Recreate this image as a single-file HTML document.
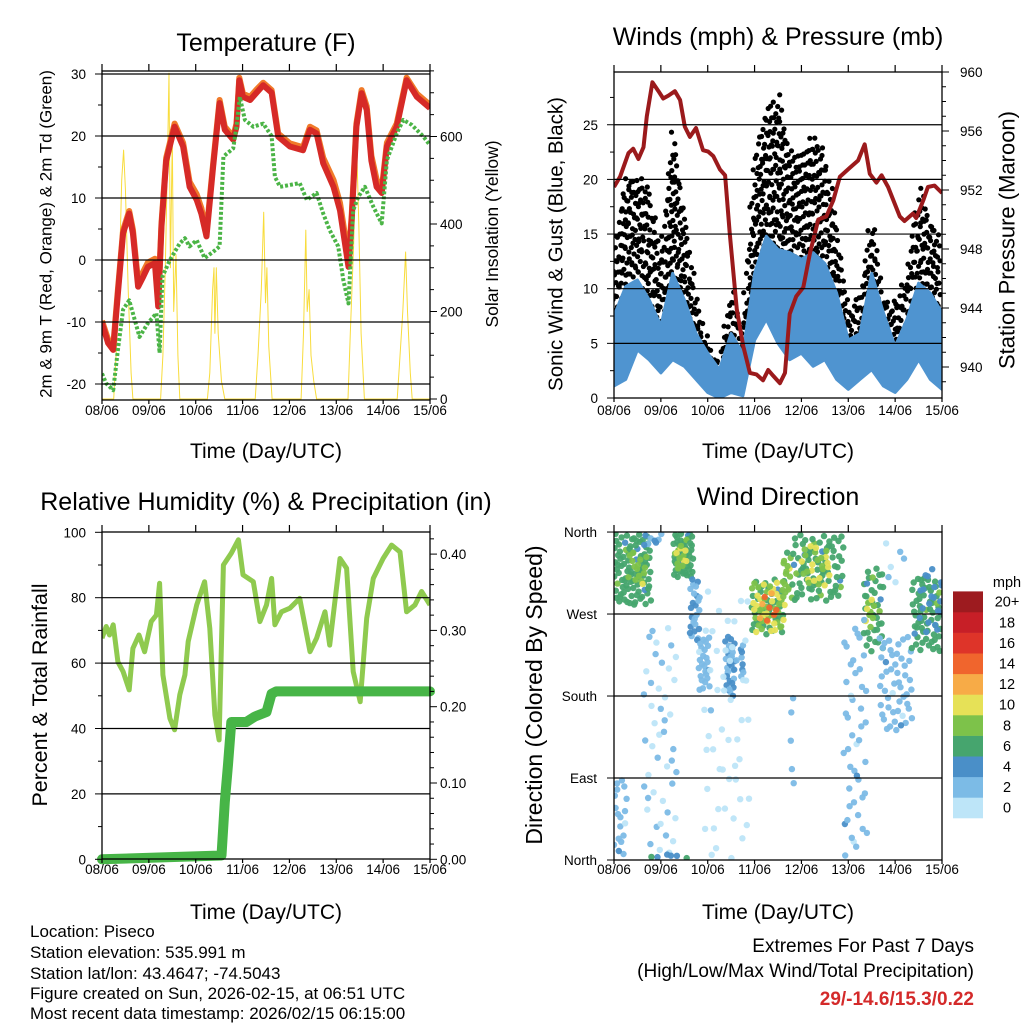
<!DOCTYPE html>
<html><head><meta charset="utf-8"><style>
html,body{margin:0;padding:0;background:#fff;}
svg{display:block;font-family:"Liberation Sans",sans-serif;}
</style></head><body>
<svg id="root" width="1024" height="1024" viewBox="0 0 1024 1024" xmlns="http://www.w3.org/2000/svg">
<defs>
<clipPath id="c1"><rect x="102" y="71" width="328" height="329"/></clipPath>
<clipPath id="c2"><rect x="614" y="72" width="328" height="326"/></clipPath>
<clipPath id="c3"><rect x="102" y="532" width="328" height="328"/></clipPath>
<clipPath id="c4"><rect x="614" y="532" width="328" height="328"/></clipPath>
</defs>
<g id="p1"></g>
<g id="p2"></g>
<g id="p3"></g>
<g id="p4"></g>
<g id="cb"></g>
<g font-size="17" fill="#000">
<text x="30" y="937">Location: Piseco</text>
<text x="30" y="958">Station elevation: 535.991 m</text>
<text x="30" y="979">Station lat/lon: 43.4647; -74.5043</text>
<text x="30" y="999">Figure created on Sun, 2026-02-15, at 06:51 UTC</text>
<text x="30" y="1019">Most recent data timestamp: 2026/02/15 06:15:00</text>
</g>
<g text-anchor="end">
<text x="974" y="952" font-size="19">Extremes For Past 7 Days</text>
<text x="974" y="977" font-size="19">(High/Low/Max Wind/Total Precipitation)</text>
<text x="974" y="1005" font-size="19" font-weight="bold" fill="#d42a2a">29/-14.6/15.3/0.22</text>
</g>
</svg>
<script>
// ---------- DATA ----------
const dayLabels = ["08/06","09/06","10/06","11/06","12/06","13/06","14/06","15/06"];
const tempTime = [0,.13,.24,.34,.45,.58,.66,.77,.88,.98,1.13,1.2,1.27,1.37,1.55,1.73,1.87,2.02,2.12,2.23,2.37,2.51,2.62,2.8,2.87,2.93,3.01,3.16,3.3,3.44,3.62,3.76,4.01,4.29,4.44,4.58,4.72,4.94,5.08,5.26,5.33,5.43,5.54,5.65,5.75,5.86,5.97,6.08,6.29,6.5,6.72,7];
const temp2m = [-10.2,-13.4,-14.5,-5.4,4.3,7.5,4.3,-4.3,-2.7,-1.1,-0.5,-7.5,5.4,16,21.5,18.3,11.8,9.7,7.5,3.8,15,25.3,21,19.4,21.5,29,26.3,25.8,27,28.2,27,19.9,18.3,17.7,21,20.4,15.6,11.8,8,-1.1,6.5,21.5,26.9,24.2,16,11.8,10.8,18.3,21.5,29,26.3,24.5];
const temp9m = [-9.8,-12.8,-13.9,-4.8,4.8,7.9,4.9,-3.5,-1.9,-0.4,0.2,-6.5,6,16.5,22,18.9,12.6,10.6,8.4,4.5,15.5,25.8,21.5,19.9,22,29.4,26.8,26.3,27.5,28.6,27.4,20.4,18.8,18.2,21.5,20.9,16.5,12.9,9.2,0.3,7.2,22,27.4,24.8,16.8,13,11.3,18.9,22,29.4,26.8,25];
const tdTime = [0,.09,.24,.34,.45,.58,.66,.8,.98,1.16,1.23,1.29,1.45,1.66,1.77,1.87,2.02,2.19,2.37,2.51,2.59,2.8,2.87,2.94,3.05,3.23,3.44,3.62,3.69,3.8,4.22,4.37,4.58,4.72,4.86,5.04,5.15,5.26,5.36,5.47,5.61,5.79,5.97,6.08,6.29,6.43,6.61,6.86,7];
const tdVals = [-18.3,-19.9,-21,-14.5,-8,-6.5,-8.6,-12.4,-10.2,-8.6,-15,-2.7,0,2.7,3.5,2.2,3.2,0.3,1.3,2.2,16.7,18,21.5,26.3,22.6,21.5,22,20,13.4,11.8,12.4,9.7,10.8,7.5,4.8,2.2,-3.2,-7,8,10.2,11.8,8.6,5.9,16.1,20.4,22.6,21.8,19.9,18.5];
const solarTime = [0,.25,.35,.42,.46,.5,.56,.62,.66,1.25,1.3,1.35,1.4,1.43,1.46,1.5,1.53,1.58,1.62,1.66,2.25,2.3,2.36,2.39,2.41,2.44,2.48,2.55,2.62,3.27,3.33,3.4,3.45,3.49,3.52,3.56,3.63,4.25,4.3,4.35,4.38,4.42,4.46,4.52,4.58,5.25,5.3,5.37,5.43,5.48,5.53,5.6,6.3,6.35,6.42,6.48,6.52,6.58,6.62,7];
const solarVals = [0,0,200,500,569,480,250,60,0,0,100,300,560,745,300,600,200,330,100,0,0,60,250,300,150,300,150,40,0,0,100,250,427,220,300,120,0,0,150,386,200,250,100,40,0,0,150,350,603,400,150,0,0,80,200,336,200,60,0,0];
const presTime = [0,.13,.31,.41,.52,.63,.7,.82,.95,1.05,1.16,1.3,1.41,1.51,1.62,1.75,1.9,2.01,2.12,2.26,2.37,2.47,2.62,2.76,2.9,3.04,3.18,3.29,3.4,3.54,3.65,3.75,3.89,4.04,4.18,4.36,4.53,4.68,4.82,5.03,5.21,5.35,5.46,5.6,5.71,5.85,6.1,6.2,6.38,6.45,6.6,6.7,6.84,7];
const presVals = [952.2,952.9,954.5,954.8,954.1,954.9,957,959.3,958.7,958.2,958.4,958.7,958.1,956.3,955.6,956.2,954.7,954.6,954.3,953.4,953,949.1,943.9,941.4,939.6,939.5,939.1,939.8,939.4,938.9,939.6,943.6,944.8,945.4,947.7,950,950.2,951.3,952.9,953.5,954,955.1,953.1,952.5,953,952.2,950.2,949.9,950.4,950.1,951.3,952.2,952.3,951.8];
const windTime = [0,.25,.5,.75,1,1.25,1.5,1.75,2,2.25,2.5,2.75,3,3.25,3.5,3.75,4,4.25,4.5,4.75,5,5.25,5.5,5.75,6,6.25,6.5,6.75,7];
const windHi = [7.5,10.2,10.8,9,6.6,11.4,9,5.9,4.1,2.6,5.9,4.1,11.4,14.8,13.6,13.3,12.7,13.3,12.3,9.6,5.3,5.9,11.4,7.8,4.7,7.2,10.5,9.6,7.8];
const windLo = [1.1,1.7,4.4,3.5,2.3,3.5,2.9,1.7,0.5,0,0.5,0.2,5.3,7.2,5,3.5,4.1,2.9,3.5,1.7,0.8,1.7,2.6,1.1,0.5,1.7,3.5,1.7,0.8];
const gustHi = [13.6,20.3,20.3,19.4,12.7,24.8,17.2,9.6,5,3.5,10.2,6.6,22.1,26.4,27.9,22.7,22.4,24.2,22.4,15.7,8.1,9.6,16.9,9,9,11.1,19.4,16.6,14.5];
const gustLo = [7.8,9.6,11.1,9,4.1,9.6,6.6,3.5,1.7,1.4,2.9,1.7,9.6,14.2,12.7,11.1,9.6,11.1,9.6,5.9,3.5,4.1,8.1,4.7,4.1,5.9,9,9.6,6.6];
const rhTime = [0,.09,.16,.24,.34,.45,.58,.66,.79,.91,1.05,1.16,1.23,1.3,1.45,1.55,1.66,1.77,1.84,2.02,2.19,2.3,2.41,2.5,2.59,2.76,2.91,3.01,3.23,3.37,3.51,3.62,3.69,3.83,4.01,4.22,4.44,4.58,4.76,4.86,5.08,5.22,5.36,5.51,5.65,5.79,6,6.18,6.36,6.5,6.68,6.82,7];
const rhVals = [67.6,71.2,68.6,71.7,60.4,57.4,51.8,64.5,68.6,63.5,72.7,74.7,84.4,56.4,43.1,39.6,50.3,56.4,66.6,77.8,84.9,70.6,44.1,36.5,90,93.6,97.7,87,84.9,72.7,77.8,85.9,71.7,75.7,76.8,79.8,63.5,67.6,75.7,65.5,92,89,57.4,48.2,73.7,85.9,92,96.1,94,75.7,77.8,81.9,77.8];
const prTime = [0,2.55,2.62,2.69,2.76,3.08,3.26,3.51,3.62,3.72,7];
const prVals = [0,0.005,0.075,0.124,0.18,0.18,0.187,0.193,0.217,0.22,0.22];
const clStart = [0,0.3,1.27,1.3,1.62,1.8,2.37,2.7,2.94,2.94,3.1,3.6,3.8,4.0,5.32,5.35,5.67,6.35,4.9,0.63,1.9,0,0.77,0.6,3.75,5.8,6.5];
const clEnd   = [0.8,0.7,1.69,1.55,1.83,2.05,2.58,2.76,3.65,3.65,3.5,3.8,4.9,4.6,5.75,5.55,6.38,7,5.4,1.34,2.9,0.27,1.6,1.05,3.85,6.2,7];
const clDirLo = [280,300,310,320,240,185,180,200,247,250,260,287,284,300,229,260,141,229,2,2,2,2,2,345,60,300,250];
const clDirHi = [359,340,359,345,310,245,245,240,310,305,295,339,357,345,320,290,247,310,265,258,295,93,6,359,200,350,320];
const clSpeed = [7,9,7,10,4,3,4,4,7,10,14,9,7,10,7,10,3,7,3,2,1,3,6,4,3,2,5];
const clCount = [90,15,50,12,25,25,30,8,35,45,8,15,80,25,40,8,50,60,45,45,50,18,6,8,5,6,20];
const cbLabels = ["0","2","4","6","8","10","12","14","16","18","20+"];
const cbColors = ["#bde5f8","#7cbbe6","#4a8fc8","#46a56e","#7dc24a","#e6e157","#f7ab47","#f0652d","#de3429","#c71f27","#9d1b1f"];

// ---------- HELPERS ----------
const NS="http://www.w3.org/2000/svg";
function mk(parent,tag,attrs){const e=document.createElementNS(NS,tag);for(const k in attrs)e.setAttribute(k,attrs[k]);parent.appendChild(e);return e;}
function txt(parent,x,y,s,size,anchor){const e=mk(parent,"text",{x:x,y:y,"font-size":size,"text-anchor":anchor||"middle"});e.textContent=s;return e;}
function halton(i,b){let f=1,r=0;while(i>0){f/=b;r+=f*(i%b);i=Math.floor(i/b);}return r;}
function pathOf(ts,vs,fx,fy){return ts.map((t,i)=>(i?"L":"M")+fx(t).toFixed(1)+","+fy(vs[i]).toFixed(1)).join("");}
function interp(ts,vs,t){for(let i=1;i<ts.length;i++){if(t<=ts[i]){const f=(t-ts[i-1])/(ts[i]-ts[i-1]);return vs[i-1]+f*(vs[i]-vs[i-1]);}}return vs[vs.length-1];}
function speedColor(s){let k=Math.floor(s/2);if(k>10)k=10;if(k<0)k=0;return cbColors[k];}

const XL=t=>102+t*46.857, XR=t=>614+t*46.857;

function frame(g,x0,y0,x1,y1,name){
  const r=mk(g,"rect",{x:x0,y:y0,width:x1-x0,height:y1-y0,fill:"none",stroke:"#000","stroke-width":1.3});
  
  
}
function xAxis(g,fx,yb,yt,labY){
  for(let d=0;d<8;d++){
    const x=fx(d);
    mk(g,"line",{x1:x,y1:yb,x2:x,y2:yb+4,stroke:"#000","stroke-width":1.2});
    mk(g,"line",{x1:x,y1:yt,x2:x,y2:yt-7,stroke:"#000","stroke-width":1.2});
    const t=txt(g,x,labY,dayLabels[d],13.5);
    
    
  }
}
function gridH(g,x0,x1,y){mk(g,"line",{x1:x0,y1:y,x2:x1,y2:y,stroke:"#000","stroke-width":1.2});}
function tickL(g,x,y,len){mk(g,"line",{x1:x,y1:y,x2:x-len,y2:y,stroke:"#000","stroke-width":1});}
function tickR(g,x,y,len){mk(g,"line",{x1:x,y1:y,x2:x+len,y2:y,stroke:"#000","stroke-width":1});}
function rotText(g,x,y,s,size,name){
  const t=mk(g,"text",{x:x,y:y,"font-size":size,"text-anchor":"middle","dominant-baseline":"central",transform:"rotate(-90 "+x+" "+y+")"});
  t.textContent=s;
  
  
}

// ---------- PANEL 1 ----------
(function(){
  const g=document.getElementById("p1");
  const yT=v=>260-v*6.2, yS=v=>399-v*0.4375;
  const c=mk(g,"g",{"clip-path":"url(#c1)"});
  const sol=mk(c,"path",{d:pathOf(solarTime,solarVals,XL,yS),fill:"none",stroke:"#f8dc3c","stroke-width":1,"stroke-linejoin":"round"});
  
  
  [30,20,10,0,-10,-20].forEach(v=>gridH(g,102,430,yT(v)));
  const o=mk(c,"path",{d:pathOf(tempTime,temp9m,XL,yT),fill:"none",stroke:"#f07a2a","stroke-width":6,"stroke-linejoin":"round"});
  
  
  const r=mk(c,"path",{d:pathOf(tempTime,temp2m,XL,yT),fill:"none",stroke:"#d62a27","stroke-width":6,"stroke-linejoin":"round"});
  
  
  const gr=mk(c,"path",{d:pathOf(tdTime,tdVals,XL,yT),fill:"none",stroke:"#4bb446","stroke-width":4,"stroke-dasharray":"3 2","stroke-linejoin":"round"});
  
  
  frame(g,102,71,430,400,"temperature-frame");
  xAxis(g,XL,400,71,415);
  for(let v=-20;v<=30;v+=5){tickL(g,102,yT(v),v%10===0?7:4);}
  [30,20,10,0,-10,-20].forEach(v=>{const t=txt(g,86,yT(v)+5,String(v),13.5,"end");});
  for(let v=0;v<=750;v+=50){tickR(g,430,yS(v),v%200===0?7:4);}
  [0,200,400,600].forEach(v=>{const t=txt(g,440,yS(v)+5,String(v),13.5,"start");});
  const ti=txt(g,266,51,"Temperature (F)",25);
  const xt=txt(g,266,458,"Time (Day/UTC)",21);
  rotText(g,46,234,"2m & 9m T (Red, Orange) & 2m Td (Green)",17,"y-axis-title");
  rotText(g,492,234,"Solar Insolation (Yellow)",17.5,"y2-axis-title");
})();

// ---------- PANEL 2 ----------
(function(){
  const g=document.getElementById("p2");
  const yW=v=>398-v*10.93, yP=p=>72+(960-p)*14.75;
  const c=mk(g,"g",{"clip-path":"url(#c2)"});
  const gd=mk(c,"g",{fill:"#000"});
  
  
  let n=0;
  for(let t=0;t<=7;t+=0.07){
    const hi=interp(windTime,gustHi,t), lo=interp(windTime,gustLo,t);
    const steps=Math.max(1,Math.round((hi-lo)*10.93/9));
    for(let k=0;k<=steps;k++){
      n++;
      const v=lo+(hi-lo)*((k+halton(n,3))/(steps+1));
      const dot=mk(gd,"circle",{cx:(XR(t)+(halton(n,2)-0.5)*4).toFixed(1),cy:yW(v).toFixed(1),r:2.6});
      
      
    }
  }
  const top=windTime.map((t,i)=>XR(t).toFixed(1)+","+yW(windHi[i]).toFixed(1));
  const bot=windTime.slice().reverse().map((t,i)=>XR(t).toFixed(1)+","+yW(windLo[windTime.length-1-i]).toFixed(1));
  const band=mk(c,"polygon",{points:top.concat(bot).join(" "),fill:"#4f94d0",stroke:"#4f94d0","stroke-width":3,"stroke-linejoin":"round"});
  
  
  [5,10,15,20,25].forEach(v=>gridH(g,614,942,yW(v)));
  const pr=mk(c,"path",{d:pathOf(presTime,presVals,XR,yP),fill:"none",stroke:"#9b1a1c","stroke-width":4,"stroke-linejoin":"round"});
  
  
  frame(g,614,72,942,398,"winds-frame");
  xAxis(g,XR,398,72,415);
  for(let v=0;v<=27.5;v+=2.5){tickL(g,614,yW(v),v%5===0?7:4);}
  [0,5,10,15,20,25].forEach(v=>{const t=txt(g,598,yW(v)+5,String(v),13.5,"end");});
  for(let p=939;p<=960;p++){tickR(g,942,yP(p),p%4===0?7:4);}
  [940,944,948,952,956,960].forEach(v=>{const t=txt(g,960,yP(v)+5,String(v),13.5,"start");});
  const ti=txt(g,778,45,"Winds (mph) & Pressure (mb)",25);
  const xt=txt(g,778,458,"Time (Day/UTC)",21);
  rotText(g,556,244,"Sonic Wind & Gust (Blue, Black)",20.5,"y-axis-title");
  rotText(g,1007,240,"Station Pressure (Maroon)",22,"y2-axis-title");
})();

// ---------- PANEL 3 ----------
(function(){
  const g=document.getElementById("p3");
  const yR=v=>859.3-v*3.27, yQ=v=>859.3-v*763;
  const c=mk(g,"g",{"clip-path":"url(#c3)"});
  [20,40,60,80].forEach(v=>gridH(g,102,430,yR(v)));
  const rh=mk(c,"path",{d:pathOf(rhTime,rhVals,XL,yR),fill:"none",stroke:"#8fca4f","stroke-width":5,"stroke-linejoin":"round"});
  
  
  const pq=mk(g,"path",{d:pathOf(prTime,prVals,XL,yQ),fill:"none",stroke:"#47b547","stroke-width":10,"stroke-linejoin":"round","stroke-linecap":"round"});
  
  
  frame(g,102,532,430,859,"humidity-frame");
  xAxis(g,XL,859,532,874);
  for(let v=0;v<=100;v+=10){tickL(g,102,yR(v),v%20===0?7:4);}
  [0,20,40,60,80,100].forEach(v=>{const t=txt(g,86,yR(v)+5,String(v),13.5,"end");});
  for(let k=0;k<=21;k++){const v=k*0.02;tickR(g,430,yQ(v),k%5===0?7:4);}
  [0,0.1,0.2,0.3,0.4].forEach(v=>{const t=txt(g,440,yQ(v)+5,v.toFixed(2),13.5,"start");});
  const ti=txt(g,266,510,"Relative Humidity (%) & Precipitation (in)",25);
  const xt=txt(g,266,919,"Time (Day/UTC)",21);
  rotText(g,40,695,"Percent & Total Rainfall",21.5,"y-axis-title");
})();

// ---------- PANEL 4 ----------
(function(){
  const g=document.getElementById("p4");
  const yD=d=>860-d*0.911;
  const c=mk(g,"g",{"clip-path":"url(#c4)"});
  [90,180,270].forEach(v=>gridH(g,614,942,yD(v)));
  let n=0;
  for(let ci=0;ci<clStart.length;ci++){
    for(let k=0;k<clCount[ci];k++){
      n++;
      const t=clStart[ci]+(clEnd[ci]-clStart[ci])*halton(n,2);
      const d=clDirLo[ci]+(clDirHi[ci]-clDirLo[ci])*halton(n,3);
      const s=clSpeed[ci]+(halton(n,5)-0.5)*2.2;
      const dot=mk(c,"circle",{cx:XR(t).toFixed(1),cy:yD(d).toFixed(1),r:3.2,fill:speedColor(s),"fill-opacity":0.95});
      
      
    }
  }
  frame(g,614,532,942,860,"direction-frame");
  xAxis(g,XR,860,532,874);
  const dl=["North","East","South","West","North"];
  [0,90,180,270,360].forEach((v,i)=>{tickL(g,614,yD(v),7);const t=txt(g,597,yD(v)+5,dl[i],13.5,"end");});
  const ti=txt(g,778,505,"Wind Direction",25);
  const xt=txt(g,778,919,"Time (Day/UTC)",21);
  rotText(g,534,695,"Direction (Colored By Speed)",23,"y-axis-title");
})();

// ---------- COLORBAR ----------
(function(){
  const g=document.getElementById("cb");
  const h=20.6, yb=818;
  for(let i=0;i<cbColors.length;i++){
    const r=mk(g,"rect",{x:953,y:(yb-(i+1)*h).toFixed(1),width:30,height:h+0.3,fill:cbColors[i]});
    
    
    const t=txt(g,1007,(yb-(i+0.5)*h+5).toFixed(1),cbLabels[i],14.5);
    
    
  }
  const m=txt(g,1007,587,"mph",14.5);
  
  
})();
</script>
</body></html>
